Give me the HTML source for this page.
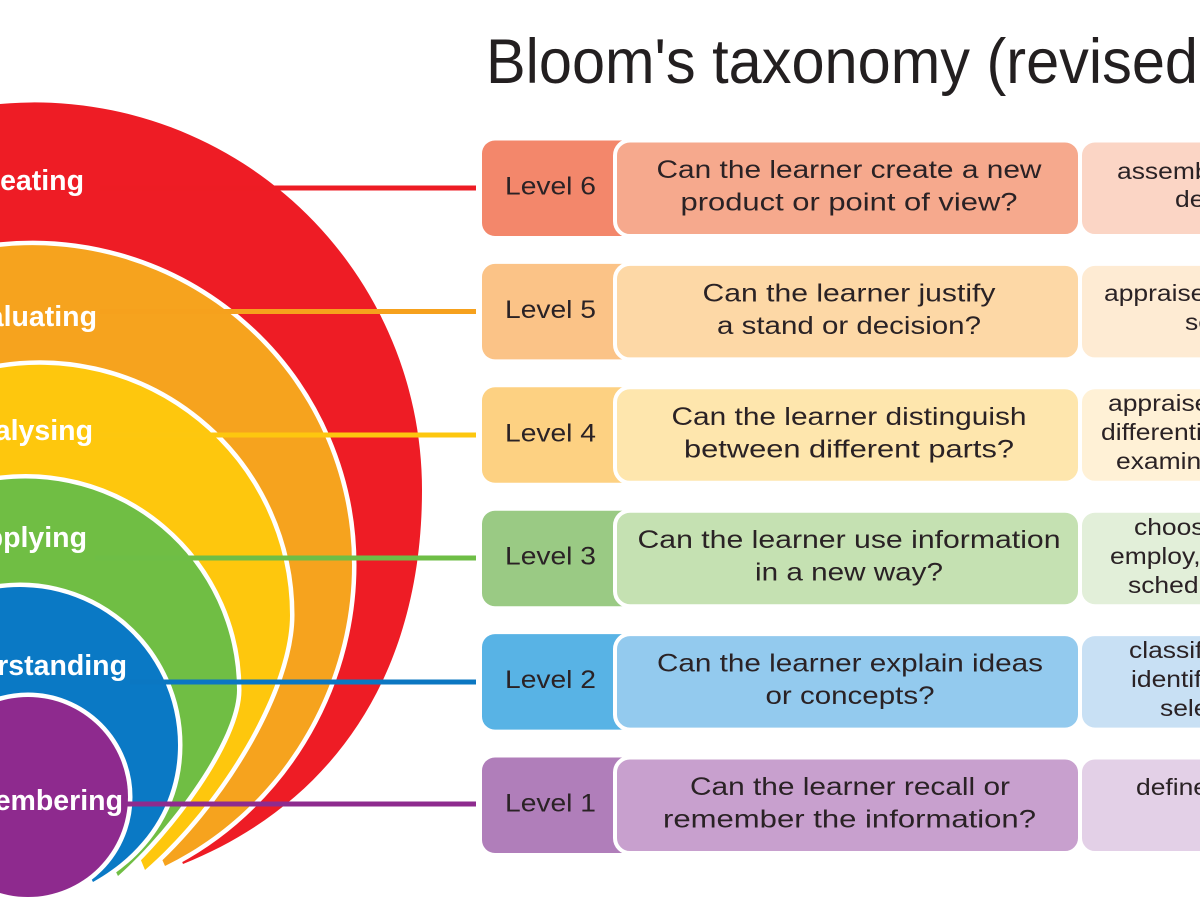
<!DOCTYPE html>
<html>
<head>
<meta charset="utf-8">
<style>
html,body{margin:0;padding:0;background:#ffffff;}
svg{display:block;}
</style>
</head>
<body>
<svg width="1200" height="920" viewBox="0 0 1200 920" xmlns="http://www.w3.org/2000/svg">
  <rect x="0" y="0" width="1200" height="920" fill="#ffffff"/>

  <!-- Title -->
  <text x="486" y="83" font-family="'Liberation Sans', sans-serif" font-size="63" fill="#231f20" textLength="712" lengthAdjust="spacingAndGlyphs">Bloom's taxonomy (revised</text>
  <text x="1203" y="83" font-family="'Liberation Sans', sans-serif" font-size="63" fill="#231f20">)</text>

  <!-- Nested spiral shapes -->
  <g stroke="#ffffff" stroke-width="9" paint-order="stroke" stroke-linejoin="round">
    <path fill="#EE1C25" d="M -10,105 A 387.5 387.5 0 0 1 422,490 C 422,670 337,802 183,864 L 34.5,490 L -10,490 Z"/>
    <path fill="#F6A31E" d="M -10,248 A 319.6 319.6 0 0 1 352,565 C 352,690 280,810 165,866 L 32.4,565 L -10,565 Z"/>
    <path fill="#FEC70D" d="M -10,369.8 A 250.2 250.2 0 0 1 290,615 C 290,690 220,805 145,870 L 39.8,615 L -10,615 Z"/>
    <path fill="#70BE44" d="M -10,481.5 A 211.5 211.5 0 0 1 237,690 C 237,740 170,830 118,876 L 25.5,690 L -10,690 Z"/>
    <path fill="#0A79C5" d="M -10,589.9 A 158 158 0 0 1 178,745 C 178,800 150,850 93,882 L 20,745 L -10,745 Z"/>
    <circle fill="#8E2A8E" cx="28" cy="797" r="100"/>
  </g>

  <!-- Connector lines -->
  <g stroke-width="5" stroke-linecap="butt">
    <line x1="100" y1="188" x2="476" y2="188" stroke="#ED1C24"/>
    <line x1="100" y1="311.5" x2="476" y2="311.5" stroke="#F6A11D"/>
    <line x1="100" y1="435" x2="476" y2="435" stroke="#FDC70F"/>
    <line x1="95" y1="558" x2="476" y2="558" stroke="#6EBE46"/>
    <line x1="130" y1="682" x2="476" y2="682" stroke="#0B77C2"/>
    <line x1="124" y1="804" x2="476" y2="804" stroke="#8E2B8E"/>
  </g>

  <!-- Shape labels -->
  <g font-family="'Liberation Sans', sans-serif" font-weight="bold" font-size="28.5" fill="#ffffff" text-anchor="end">
    <text x="84" y="190">Creating</text>
    <text x="97" y="326">Evaluating</text>
    <text x="93" y="440">Analysing</text>
    <text x="87" y="547">Applying</text>
    <text x="127" y="675">Understanding</text>
    <text x="123" y="810">Remembering</text>
  </g>

  <!-- Rows -->
  <g font-family="'Liberation Sans', sans-serif" fill="#2a2225">
    <!-- Row 6 -->
    <rect x="482" y="140.5" width="160" height="95.5" rx="13" fill="#F3876B"/>
    <rect x="615" y="140.5" width="465" height="95.5" rx="15" fill="#F6A98D" stroke="#ffffff" stroke-width="4"/>
    <rect x="1080" y="140.5" width="170" height="95.5" rx="15" fill="#FBD5C5" stroke="#ffffff" stroke-width="4"/>
    <text x="550.5" y="194.5" font-size="25" text-anchor="middle" textLength="91" lengthAdjust="spacingAndGlyphs">Level 6</text>
    <text x="849" y="178" font-size="25" text-anchor="middle" textLength="385" lengthAdjust="spacingAndGlyphs">Can the learner create a new</text>
    <text x="849" y="210.5" font-size="25" text-anchor="middle" textLength="337" lengthAdjust="spacingAndGlyphs">product or point of view?</text>
    <text font-size="23" transform="matrix(1.15 0 0 1 1117 179)">assemble, construct, create,</text>
    <text font-size="23" transform="matrix(1.15 0 0 1 1175 207)">design, develop</text>

    <!-- Row 5 -->
    <rect x="482" y="263.9" width="160" height="95.5" rx="13" fill="#FBC387"/>
    <rect x="615" y="263.9" width="465" height="95.5" rx="15" fill="#FDD8A6" stroke="#ffffff" stroke-width="4"/>
    <rect x="1080" y="263.9" width="170" height="95.5" rx="15" fill="#FEEBD3" stroke="#ffffff" stroke-width="4"/>
    <text x="550.5" y="317.9" font-size="25" text-anchor="middle" textLength="91" lengthAdjust="spacingAndGlyphs">Level 5</text>
    <text x="849" y="301.4" font-size="25" text-anchor="middle" textLength="293" lengthAdjust="spacingAndGlyphs">Can the learner justify</text>
    <text x="849" y="333.9" font-size="25" text-anchor="middle" textLength="264" lengthAdjust="spacingAndGlyphs">a stand or decision?</text>
    <text font-size="23" transform="matrix(1.15 0 0 1 1104 301)">appraise, argue, defend,</text>
    <text font-size="23" transform="matrix(1.15 0 0 1 1185 330)">select, support</text>

    <!-- Row 4 -->
    <rect x="482" y="387.3" width="160" height="95.5" rx="13" fill="#FDD182"/>
    <rect x="615" y="387.3" width="465" height="95.5" rx="15" fill="#FEE6AD" stroke="#ffffff" stroke-width="4"/>
    <rect x="1080" y="387.3" width="170" height="95.5" rx="15" fill="#FFF1D6" stroke="#ffffff" stroke-width="4"/>
    <text x="550.5" y="441.3" font-size="25" text-anchor="middle" textLength="91" lengthAdjust="spacingAndGlyphs">Level 4</text>
    <text x="849" y="424.8" font-size="25" text-anchor="middle" textLength="355" lengthAdjust="spacingAndGlyphs">Can the learner distinguish</text>
    <text x="849" y="457.3" font-size="25" text-anchor="middle" textLength="330" lengthAdjust="spacingAndGlyphs">between different parts?</text>
    <text font-size="23" transform="matrix(1.15 0 0 1 1108 411)">appraise, compare,</text>
    <text font-size="23" transform="matrix(1.15 0 0 1 1101 440)">differentiate,</text>
    <text font-size="23" transform="matrix(1.15 0 0 1 1116 469)">examine, test</text>

    <!-- Row 3 -->
    <rect x="482" y="510.7" width="160" height="95.5" rx="13" fill="#9ACA84"/>
    <rect x="615" y="510.7" width="465" height="95.5" rx="15" fill="#C5E1B2" stroke="#ffffff" stroke-width="4"/>
    <rect x="1080" y="510.7" width="170" height="95.5" rx="15" fill="#E2EFD9" stroke="#ffffff" stroke-width="4"/>
    <text x="550.5" y="564.7" font-size="25" text-anchor="middle" textLength="91" lengthAdjust="spacingAndGlyphs">Level 3</text>
    <text x="849" y="548.2" font-size="25" text-anchor="middle" textLength="423" lengthAdjust="spacingAndGlyphs">Can the learner use information</text>
    <text x="849" y="580.7" font-size="25" text-anchor="middle" textLength="188" lengthAdjust="spacingAndGlyphs">in a new way?</text>
    <text font-size="23" transform="matrix(1.15 0 0 1 1134 535)">choose, demonstrate,</text>
    <text font-size="23" transform="matrix(1.15 0 0 1 1110 564)">employ, illustrate,</text>
    <text font-size="23" transform="matrix(1.15 0 0 1 1128 593)">schedule, sketch</text>

    <!-- Row 2 -->
    <rect x="482" y="634.1" width="160" height="95.5" rx="13" fill="#58B3E5"/>
    <rect x="615" y="634.1" width="465" height="95.5" rx="15" fill="#93CAEE" stroke="#ffffff" stroke-width="4"/>
    <rect x="1080" y="634.1" width="170" height="95.5" rx="15" fill="#C8E0F4" stroke="#ffffff" stroke-width="4"/>
    <text x="550.5" y="688.1" font-size="25" text-anchor="middle" textLength="91" lengthAdjust="spacingAndGlyphs">Level 2</text>
    <text x="850" y="671.6" font-size="25" text-anchor="middle" textLength="386" lengthAdjust="spacingAndGlyphs">Can the learner explain ideas</text>
    <text x="850" y="704.1" font-size="25" text-anchor="middle" textLength="169" lengthAdjust="spacingAndGlyphs">or concepts?</text>
    <text font-size="23" transform="matrix(1.15 0 0 1 1129 658)">classify, describe,</text>
    <text font-size="23" transform="matrix(1.15 0 0 1 1131 687)">identify, locate,</text>
    <text font-size="23" transform="matrix(1.15 0 0 1 1160 716)">select, translate</text>

    <!-- Row 1 -->
    <rect x="482" y="757.5" width="160" height="95.5" rx="13" fill="#B07EBA"/>
    <rect x="615" y="757.5" width="465" height="95.5" rx="15" fill="#C8A0CE" stroke="#ffffff" stroke-width="4"/>
    <rect x="1080" y="757.5" width="170" height="95.5" rx="15" fill="#E3D0E7" stroke="#ffffff" stroke-width="4"/>
    <text x="550.5" y="811.5" font-size="25" text-anchor="middle" textLength="91" lengthAdjust="spacingAndGlyphs">Level 1</text>
    <text x="850" y="795" font-size="25" text-anchor="middle" textLength="320" lengthAdjust="spacingAndGlyphs">Can the learner recall or</text>
    <text x="849.5" y="827.5" font-size="25" text-anchor="middle" textLength="373" lengthAdjust="spacingAndGlyphs">remember the information?</text>
    <text font-size="23" transform="matrix(1.15 0 0 1 1136 795)">define, duplicate, list</text>
  </g>
</svg>
</body>
</html>
